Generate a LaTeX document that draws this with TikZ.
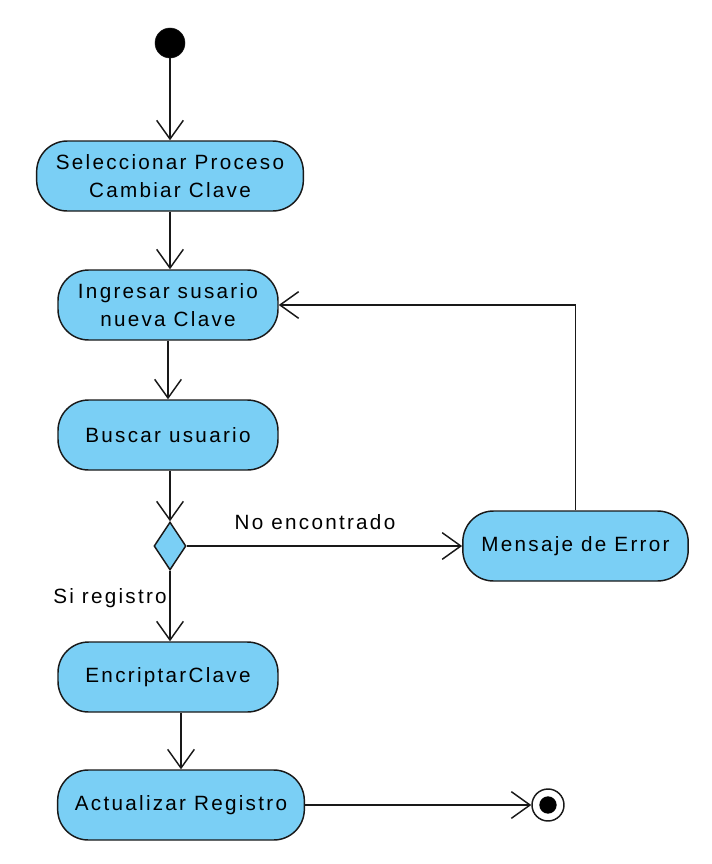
\documentclass[tikz,border=0pt]{standalone}
\usepackage{fontspec}
\newfontfamily\vpfont{Liberation Sans}[LetterSpace=11]
\usepackage{tikz}
\usetikzlibrary{arrows.meta,positioning,shapes.geometric,calc}
\definecolor{vpblue}{RGB}{122,207,245}
\definecolor{vpline}{RGB}{25,25,25}
\tikzset{
  accion/.style={draw=vpline, fill=vpblue, rounded corners=23pt, line width=1.1pt, align=center, minimum height=52.5pt, inner sep=2pt, font=\vpfont\fontsize{15.5}{20.5}\selectfont},
  flecha/.style={-{Straight Barb[length=14pt, width=20pt, line width=1.1pt]}, line width=1.1pt, vpline},
  etiqueta/.style={font=\vpfont\fontsize{15.5}{17}\selectfont, inner sep=1pt}
}

\begin{document}
\begin{tikzpicture}[x=0.75pt, y=-0.75pt]
  \useasboundingbox (0,0) rectangle (712,864);

  %% Start / end
  \node[circle, fill=black, draw=vpline, minimum size=22.5pt, inner sep=0pt] (inicio) at (170,43) {};
  \node[circle, fill=white, draw=vpline, line width=1.1pt, minimum size=24pt, inner sep=0pt] (fin) at (548,805) {};
  \node[circle, fill=black, minimum size=13pt, inner sep=0pt] (finc) at (548,805) {};

  %% Actions
  \node[accion, minimum width=200pt] (seleccionar) at (170,176) {Seleccionar Proceso\\Cambiar Clave};
  \node[accion, minimum width=165pt] (ingresar) at (168,305) {Ingresar susario\\nueva Clave};
  \node[accion, minimum width=165pt] (buscar) at (168,435) {Buscar usuario};
  \node[accion, minimum width=165pt] (encriptar) at (168,677) {EncriptarClave};
  \node[accion, minimum width=185pt] (actualizar) at (181,805) {Actualizar Registro};
  \node[accion, minimum width=169pt] (error) at (575.5,546) {Mensaje de Error};

  %% Decision
  \node[diamond, draw=vpline, fill=vpblue, line width=1.1pt, inner sep=0pt, minimum width=24pt, minimum height=36pt] (decision) at (170,546) {};

  %% Flow
  \draw[flecha] (inicio) -- (seleccionar.north);
  \draw[flecha] (seleccionar.south) -- (ingresar.north -| seleccionar.south);
  \draw[flecha] (ingresar.south) -- (buscar.north);
  \draw[flecha] (buscar.south -| decision.north) -- (decision.north);
  \draw[flecha] (decision.south) -- (encriptar.north -| decision.south);
  \draw[flecha] (encriptar.south -| actualizar.north) -- (actualizar.north);
  \draw[flecha] (actualizar.east) -- (fin.west);

  \draw[flecha] (decision.east) -- (error.west);
  \draw[flecha] (error.north) |- (ingresar.east);

  %% Guards
  \node[etiqueta] (noencontrado) at (315,522) {No encontrado};
  \node[etiqueta] (siregistro) at (110,598) {Si registro};
\end{tikzpicture}
\end{document}
